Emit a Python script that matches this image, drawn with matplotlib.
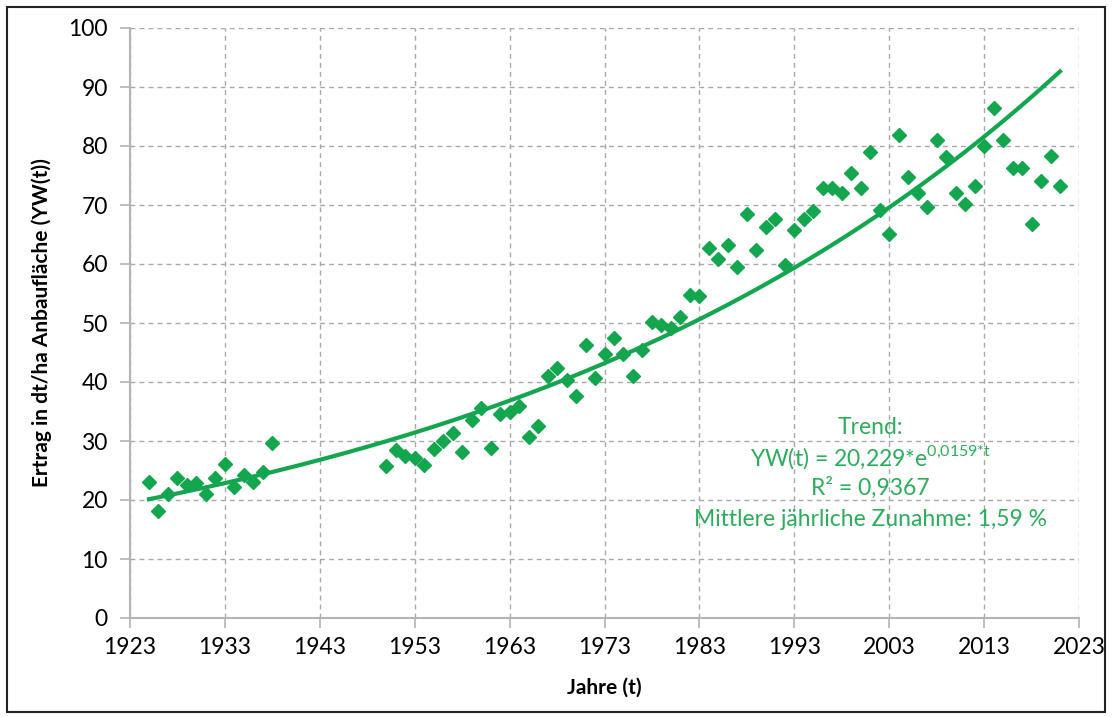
import numpy as np
import matplotlib.pyplot as plt
from matplotlib.patches import Rectangle

# Ertrag (dt/ha) je Jahr
jahre_a = [1925, 1926, 1927, 1928, 1929, 1930, 1931, 1932, 1933, 1934, 1935, 1936, 1937, 1938]
ertrag_a = [23.1, 18.1, 21.0, 23.8, 22.5, 22.8, 21.0, 23.7, 26.1, 22.2, 24.2, 23.0, 24.7, 29.7]

jahre_b = list(range(1950, 2022))
ertrag_b = [25.7, 28.5, 27.5, 27.2, 26.0, 28.6, 30.0, 31.4, 28.2, 33.6,
            35.6, 28.8, 34.6, 34.9, 35.9, 30.7, 32.6, 41.1, 42.4, 40.3,
            37.7, 46.2, 40.6, 44.7, 47.5, 44.8, 41.1, 45.4, 50.1, 49.6,
            49.2, 51.0, 54.8, 54.5, 62.7, 60.9, 63.2, 59.5, 68.5, 62.3,
            66.2, 67.7, 59.9, 65.8, 67.7, 68.9, 72.9, 72.9, 72.1, 75.5,
            72.8, 79.0, 69.2, 65.1, 81.8, 74.7, 72.0, 69.6, 81.0, 78.1,
            72.1, 70.1, 73.3, 80.0, 86.4, 81.0, 76.3, 76.3, 66.7, 74.1,
            78.3, 73.3]

jahre = jahre_a + jahre_b
ertrag = ertrag_a + ertrag_b

# Trendparameter laut Beschriftung
a_trend = 20.229
b_trend = 0.0159

gruen = "#14a64f"
text_gruen = "#2bad5c"
grau = "#b4b4b4"

plt.rcParams["font.family"] = ["Lato", "DejaVu Sans"]
plt.rcParams["mathtext.fontset"] = "custom"
plt.rcParams["mathtext.rm"] = "Lato"

fig = plt.figure(figsize=(11.12, 7.17), dpi=100)
ax = fig.add_axes([130 / 1112, 1 - 618 / 717, (1079 - 130) / 1112, (618 - 28) / 717])

t_jahre = np.arange(jahre[0], jahre[-1] + 0.01, 0.25)
trend = a_trend * np.exp(b_trend * (t_jahre - jahre[0] - 0.3))
ax.plot(t_jahre, trend, color=gruen, lw=3, zorder=3)
ax.plot(jahre, ertrag, ls="none", marker="D", ms=7, color=gruen, mec=gruen, zorder=4)

ax.set_xlim(1923, 2023)
ax.set_ylim(0, 100)
ax.set_xticks(np.arange(1923, 2024, 10))
ax.set_yticks(np.arange(0, 101, 10))
ax.grid(True, ls=(0, (3.5, 3)), color="#a8a8a8", lw=1.0)
ax.set_axisbelow(True)
for s in ["top", "right"]:
    ax.spines[s].set_visible(False)
for s in ["left", "bottom"]:
    ax.spines[s].set_color(grau)
    ax.spines[s].set_linewidth(1.5)
ax.tick_params(direction="out", length=7, width=1.2, color=grau, labelsize=16.5)
ax.tick_params(axis="y", pad=9)
ax.tick_params(axis="x", pad=7)

ax.set_xlabel("Jahre (t)", fontsize=15, fontweight="bold", labelpad=14)
ax.set_ylabel("Ertrag in dt/ha Anbaufläche (YW(t))", fontsize=15, fontweight="bold", labelpad=12)

zeilen = ["Trend:",
          r"YW(t) = 20,229*e$^{\mathregular{0{,}0159{*}t}}$",
          "R² = 0,9367",
          "Mittlere jährliche Zunahme: 1,59 %"]
y_pos = [32.3, 27.2, 22.1, 16.7]
for z, y in zip(zeilen, y_pos):
    ax.text(2001, y, z, ha="center", va="center", fontsize=16.5, color=text_gruen)

fig.patches.append(Rectangle((7 / 1112, 5 / 717), 1098 / 1112, 705 / 717, transform=fig.transFigure,
                             fill=False, ec="#222222", lw=1.5))

fig.savefig("out.png", dpi=100)
